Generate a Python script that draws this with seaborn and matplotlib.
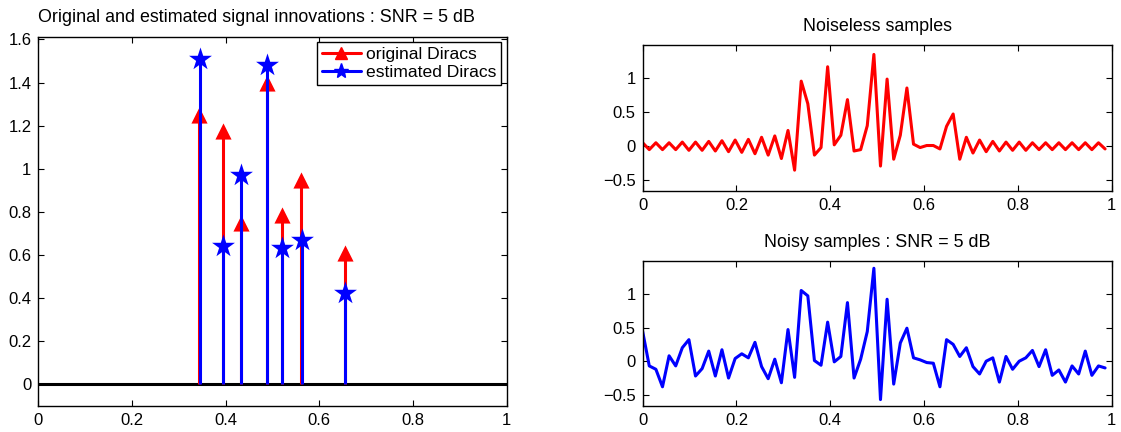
import numpy as np
import pandas as pd
import matplotlib
matplotlib.use("Agg")
import matplotlib.pyplot as plt
import seaborn as sns
from matplotlib.lines import Line2D
from matplotlib.legend_handler import HandlerLine2D
from matplotlib.ticker import FixedLocator, FuncFormatter

# Dirac locations / amplitudes (left panel)
orig_pos = [0.344, 0.395, 0.432, 0.488, 0.520, 0.561, 0.655]
orig_amp = [1.25, 1.175, 0.75, 1.40, 0.785, 0.95, 0.61]
est_pos = [0.345, 0.395, 0.433, 0.488, 0.521, 0.562, 0.655]
est_amp = [1.51, 0.64, 0.97, 1.48, 0.635, 0.672, 0.422]

# samples (right panels), 71 samples on [0, 1)
noiseless = [0.05, -0.05, 0.05, -0.05, 0.05, -0.05, 0.06, -0.06, 0.06, -0.06, 0.07, -0.07, 0.08, -0.08,
             0.09, -0.09, 0.10, -0.11, 0.13, -0.13, 0.15, -0.18, 0.23, -0.35,
             0.95, 0.62, -0.13, -0.02, 1.16, 0.02, 0.16, 0.68, -0.07, -0.05,
             0.30, 1.34, -0.29, 0.98, -0.19, 0.16, 0.85, 0.03, -0.02, 0.01,
             0.01, -0.04, 0.29, 0.47, -0.19, 0.13, -0.10, 0.09, -0.08, 0.07,
             -0.07, 0.06, -0.06, 0.06, -0.06, 0.05, -0.05, 0.05, -0.05, 0.05,
             -0.05, 0.05, -0.05, 0.05, -0.05, 0.05, -0.04]
noisy = [0.44, -0.07, -0.12, -0.38, 0.08, -0.07, 0.20, 0.32, -0.22, -0.11,
         0.15, -0.22, 0.17, -0.25, 0.04, 0.11, 0.05, 0.28, -0.08, -0.26,
         0.03, -0.32, 0.47, -0.24, 1.05, 0.97, 0.01, -0.06, 0.58, -0.01,
         0.07, 0.87, -0.25, 0.03, 0.44, 1.38, -0.57, 0.92, -0.34, 0.27,
         0.49, 0.05, 0.02, -0.02, -0.03, -0.38, 0.32, 0.25, 0.07, 0.20,
         -0.08, -0.19, 0.00, 0.05, -0.31, 0.07, -0.12, 0.00, 0.05, 0.16,
         -0.08, 0.17, -0.21, -0.13, -0.31, -0.07, -0.19, 0.15, -0.21, -0.07,
         -0.10]
t = np.arange(len(noiseless)) / len(noiseless)

xticks = [0, 0.2, 0.4, 0.6, 0.8, 1]
left_yticks = [0, 0.2, 0.4, 0.6, 0.8, 1, 1.2, 1.4, 1.6]
right_yticks = [-0.5, 0, 0.5, 1]

sns.set_theme(style="white", rc={"axes.edgecolor": "black", "axes.linewidth": 1.0,
                                 "xtick.color": "black", "ytick.color": "black",
                                 "text.color": "black"})
plt.rcParams['font.family'] = ['Liberation Sans', 'DejaVu Sans']
FS = 12
TFS = 12.9


def fmt(v, pos):
    return f"{round(v, 6) + 0.0:g}".replace('-', '\u2212')


def style(ax, yt):
    ax.xaxis.set_major_locator(FixedLocator(xticks))
    ax.yaxis.set_major_locator(FixedLocator(yt))
    ax.xaxis.set_major_formatter(FuncFormatter(fmt))
    ax.yaxis.set_major_formatter(FuncFormatter(fmt))
    ax.tick_params(direction='in', top=True, right=True, bottom=True, left=True,
                   length=4, width=0.8, labelsize=FS, pad=5)
    for s in ax.spines.values():
        s.set_visible(True)
        s.set_color('black')
    ax.set_xlabel('')
    ax.set_ylabel('')


class EndMarker(HandlerLine2D):
    def get_xdata(self, legend, xdescent, ydescent, width, height, fontsize):
        return [-xdescent, -xdescent + width], [-xdescent + 0.82 * width]


fig = plt.figure(figsize=(11.21, 4.32), dpi=100)
ax0 = fig.add_axes([0.0342, 0.0602, 0.4178, 0.8549])
ax1 = fig.add_axes([0.5733, 0.5579, 0.4184, 0.338])
ax2 = fig.add_axes([0.5733, 0.0602, 0.4184, 0.336])

# left: stems
ax0.axhline(0, color='black', lw=2.2, zorder=1)
ax0.vlines(orig_pos, 0, orig_amp, color='red', lw=2.2, zorder=2)
sns.scatterplot(x=orig_pos, y=orig_amp, ax=ax0, marker='^', s=135, color='red',
                linewidth=0, zorder=3)
ax0.vlines(est_pos, 0, est_amp, color='blue', lw=2.2, zorder=4)
sns.scatterplot(x=est_pos, y=est_amp, ax=ax0, marker='*', s=300, color='blue',
                linewidth=0, zorder=5)
ax0.set_xlim(0, 1)
ax0.set_ylim(-0.1, 1.613)
style(ax0, left_yticks)
ax0.set_title('Original and estimated signal innovations : SNR = 5 dB',
              fontsize=TFS, x=0.465, pad=10.5)
handles = [Line2D([], [], color='red', lw=2.2, marker='^', ms=9),
           Line2D([], [], color='blue', lw=2.2, marker='*', ms=11)]
leg = ax0.legend(handles, ['original Diracs', 'estimated Diracs'], loc='upper right',
                 fontsize=12.6, frameon=True, fancybox=False, edgecolor='black',
                 framealpha=1, borderaxespad=0.3, handlelength=2.2, handletextpad=0.3,
                 labelspacing=0.12, borderpad=0.3,
                 handler_map={Line2D: EndMarker()})
leg.get_frame().set_linewidth(1.0)

# right top: noiseless
sns.lineplot(x=t, y=noiseless, ax=ax1, color='red', lw=2.2, sort=False)
ax1.set_xlim(0, 1)
ax1.set_ylim(-0.654, 1.478)
style(ax1, right_yticks)
ax1.set_title('Noiseless samples', fontsize=TFS, pad=10)

# right bottom: noisy
sns.lineplot(x=t, y=noisy, ax=ax2, color='blue', lw=2.2, sort=False)
ax2.set_xlim(0, 1)
ax2.set_ylim(-0.665, 1.49)
style(ax2, right_yticks)
ax2.set_title('Noisy samples : SNR = 5 dB', fontsize=TFS, pad=10)

fig.savefig('out.png', dpi=100)
